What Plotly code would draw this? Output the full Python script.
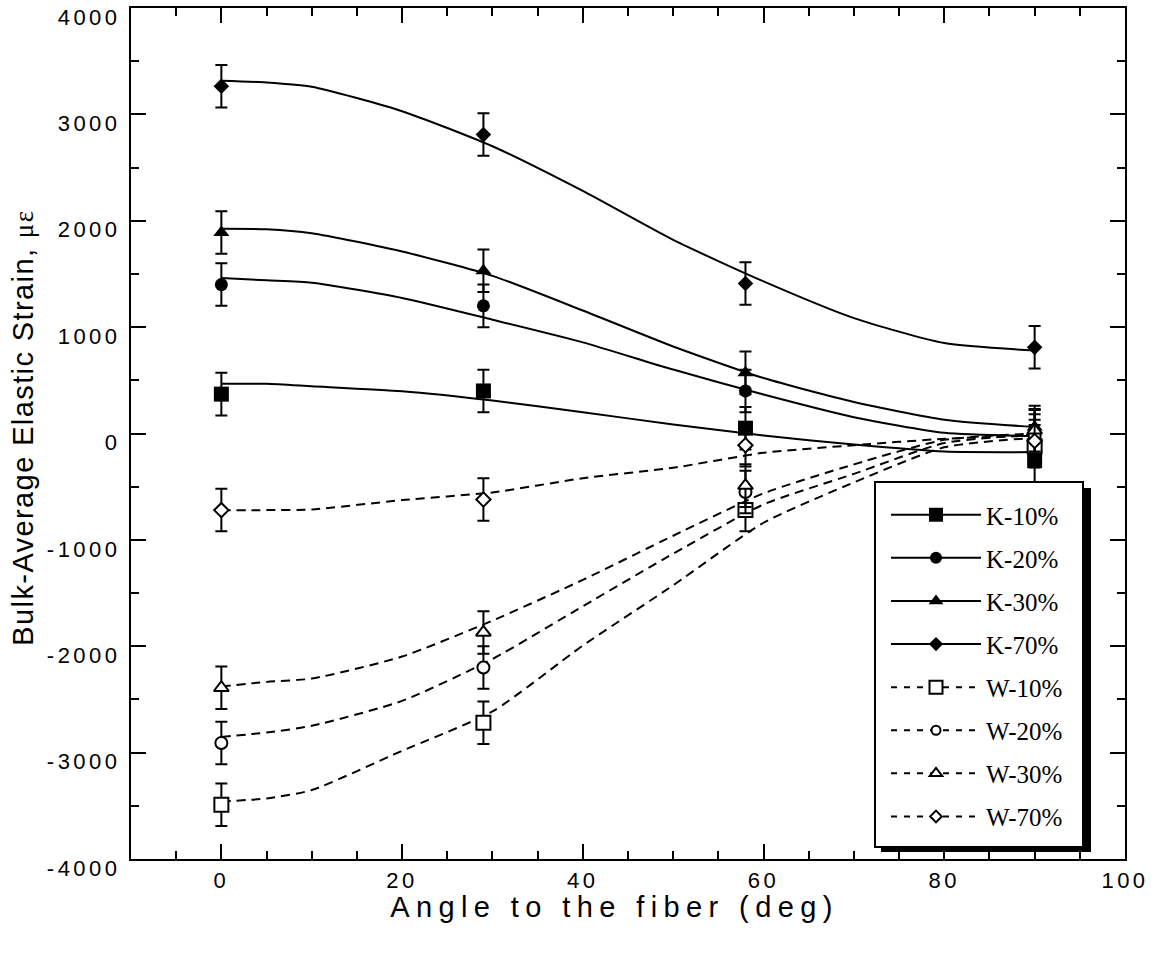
import plotly.graph_objects as go

# ---- data ----
angles = [0, 29, 58, 90]
series_names = ["K-10%", "K-20%", "K-30%", "K-70%", "W-10%", "W-20%", "W-30%", "W-70%"]

k10 = [370, 400, 50, -255]
k20 = [1400, 1200, 400, 20]
k30 = [1890, 1530, 570, 60]
k70 = [3265, 2810, 1410, 810]
w10 = [-3490, -2720, -720, -120]
w20 = [-2910, -2200, -550, -20]
w30 = [-2390, -1870, -490, 30]
w70 = [-720, -620, -110, -70]
err = [200, 200, 200, 200]

# fitted trend curves
fit_angle = [0, 5, 10, 20, 30, 40, 50, 60, 70, 80, 90]
fit_k10 = [467, 467, 444, 397, 310, 200, 85, -19, -103, -169, -175]
fit_k20 = [1462, 1440, 1418, 1274, 1070, 857, 601, 366, 153, 6, -25]
fit_k30 = [1924, 1920, 1883, 1711, 1482, 1156, 818, 521, 296, 130, 61]
fit_k70 = [3317, 3300, 3260, 3030, 2700, 2280, 1820, 1430, 1085, 850, 780]
fit_w10 = [-3459, -3431, -3352, -2983, -2613, -1994, -1427, -839, -460, -130, -40]
fit_w20 = [-2852, -2811, -2748, -2514, -2120, -1624, -1130, -667, -380, -90, -10]
fit_w30 = [-2378, -2335, -2304, -2097, -1759, -1376, -961, -563, -290, -60, 0]
fit_w70 = [-723, -720, -714, -626, -554, -420, -322, -181, -110, -50, -20]

x_ticks = [0, 20, 40, 60, 80, 100]
y_ticks = [-4000, -3000, -2000, -1000, 0, 1000, 2000, 3000, 4000]

points = [k10, k20, k30, k70, w10, w20, w30, w70]
fits = [fit_k10, fit_k20, fit_k30, fit_k70, fit_w10, fit_w20, fit_w30, fit_w70]

# ---- styles ----
symbols = ["square", "circle", "triangle-up", "diamond",
           "square", "circle", "triangle-up", "diamond"]
sizes = [15, 13, 14, 12, 14, 12, 13, 11]
filled = [True, True, True, True, False, False, False, False]
dashes = ["solid"] * 4 + ["9px,6px"] * 4

fig = go.Figure()

# curves
for name, f, d in zip(series_names, fits, dashes):
    fig.add_trace(go.Scatter(
        x=fit_angle, y=f, mode="lines", showlegend=False, hoverinfo="skip",
        line=dict(color="black", width=2, dash=d, shape="spline", smoothing=0.6)))

# markers with error bars
for name, p, s, sz, fl in zip(series_names, points, symbols, sizes, filled):
    fig.add_trace(go.Scatter(
        x=angles, y=p, mode="markers", showlegend=False, name=name,
        marker=dict(symbol=s, size=sz, color="black" if fl else "white",
                    line=dict(color="black", width=0 if fl else 2)),
        error_y=dict(type="data", array=err, visible=True, color="black",
                     thickness=2, width=6)))

# legend samples
leg_sizes = [14, 12, 13, 11, 13, 9, 11, 9]
for i, (name, s, sz, fl, d) in enumerate(zip(series_names, symbols, leg_sizes, filled, dashes)):
    fig.add_trace(go.Scatter(
        x=[None], y=[None], mode="lines+markers", name=name,
        legendgroup=f"g{i}", showlegend=True,
        line=dict(color="black", width=2, dash="6px,7px" if d != "solid" else "solid"),
        marker=dict(symbol=s, size=sz, color="black" if fl else "white",
                    line=dict(color="black", width=0 if fl else 2))))

L, R, T, B = 131, 1125, 8, 859
W_, H_ = R - L, B - T


def px(xp):
    return (xp - L) / W_


def py(yp):
    return (B - yp) / H_


shapes = [
    dict(type="rect", xref="paper", yref="paper", layer="above",
         x0=px(881), x1=px(1091), y0=py(852), y1=py(488),
         fillcolor="black", line=dict(width=0)),
    dict(type="rect", xref="paper", yref="paper", layer="above",
         x0=px(875), x1=px(1083), y0=py(847), y1=py(482),
         fillcolor="white", line=dict(color="black", width=2)),
]

axis_font = dict(family="Liberation Sans, Arial, sans-serif", size=22, color="black")

fig.update_layout(
    width=1154, height=955,
    margin=dict(l=L, r=1154 - R, t=T, b=955 - B, autoexpand=False),
    paper_bgcolor="white", plot_bgcolor="white",
    showlegend=True,
    legend=dict(x=px(886), y=py(492), xanchor="left", yanchor="top",
                bgcolor="rgba(0,0,0,0)", borderwidth=0,
                font=dict(family="Liberation Serif, Times New Roman, serif", size=25, color="black"),
                traceorder="grouped", tracegroupgap=7.6, itemwidth=90),
    shapes=shapes,
    xaxis=dict(range=[-10, 100], tickvals=x_ticks, ticktext=[str(v) for v in x_ticks],
               showgrid=False, zeroline=False, showline=True, linecolor="black",
               linewidth=2, mirror="allticks", ticks="inside", ticklen=15,
               tickwidth=2, tickcolor="black", tickfont=axis_font,
               minor=dict(ticks="inside", ticklen=8, tickwidth=2, dtick=5,
                          tick0=0, tickcolor="black", showgrid=False),
               ticklabelstandoff=1),
    yaxis=dict(range=[-4000, 4000], tickvals=y_ticks, ticktext=[str(v) for v in y_ticks],
               showgrid=False, zeroline=False, showline=True, linecolor="black",
               linewidth=2, mirror="allticks", ticks="inside", ticklen=15,
               tickwidth=2, tickcolor="black", tickfont=axis_font,
               minor=dict(ticks="inside", ticklen=8, tickwidth=2, dtick=500,
                          tick0=0, tickcolor="black", showgrid=False),
               ticklabelshift=9, ticklabelstandoff=4),
    annotations=[
        dict(text="Angle to the fiber (deg)", xref="paper", yref="paper",
             x=px(614), y=py(907), xanchor="center", yanchor="middle",
             showarrow=False,
             font=dict(family="Liberation Sans, Arial, sans-serif", size=29, color="black")),
        dict(text="Bulk-Average Elastic Strain, <span style='font-family:Liberation Serif;font-size:27px'>με</span>",
             xref="paper", yref="paper", x=px(23), y=py(428),
             xanchor="center", yanchor="middle", textangle=-90, showarrow=False,
             font=dict(family="Liberation Sans, Arial, sans-serif", size=29, color="black")),
    ],
)

post = """
document.body.style.margin = '0';
document.body.style.padding = '0';
var gd = document.getElementById('{plot_id}');
gd.querySelectorAll('.xtick text, .ytick text').forEach(function(t){ t.style.letterSpacing = '3.5px'; });
gd.querySelectorAll('.annotation-text').forEach(function(t, i){
  if (t.textContent.indexOf('Angle') === 0) { t.style.letterSpacing = '6.4px'; }
  else { t.style.letterSpacing = '1.4px'; }
});
"""

fig.write_html("out.html", post_script=post, config={"displayModeBar": False})
